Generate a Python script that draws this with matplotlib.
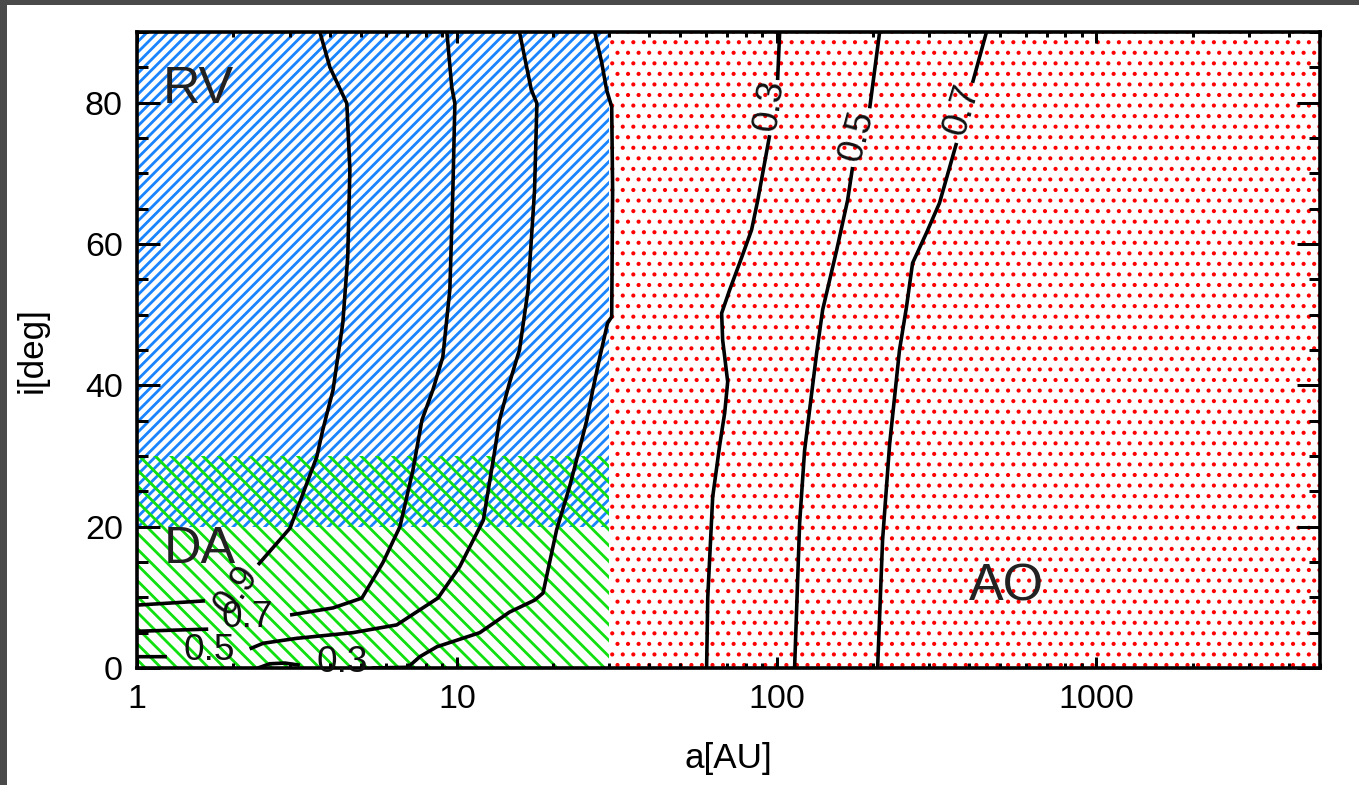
import matplotlib
matplotlib.use('Agg')
import matplotlib.pyplot as plt
from matplotlib.patches import Rectangle
from matplotlib.ticker import MultipleLocator, NullFormatter
import numpy as np

DPI = 190
W, H = 1359, 785


def pt(px):
    # size in output pixels -> points
    return px * 72.0 / DPI


plt.rcParams['font.family'] = ['Liberation Sans', 'DejaVu Sans']

# axes
a_range = [1, 5000]
i_range = [0, 90]
a_ticks = [1, 10, 100, 1000]
a_ticklabels = ['1', '10', '100', '1000']
i_ticks = [0, 20, 40, 60, 80]

# survey regions
rv_a, rv_i = [1, 30], [20, 90]
da_a, da_i = [1, 30], [0, 30]
ao_a, ao_i = [30, 5000], [0, 90]

nan = np.nan
# RV/DA side contours (nan = gap where label sits)
c09_a = [1.0, 1.63, nan, 2.39, 3.01, 3.65, 3.81, 4.10, 4.40, 4.56, 4.63, 4.53, 4.01, 3.73]
c09_i = [8.9, 9.5, nan, 14.6, 19.8, 29.9, 33.7, 39.3, 48.8, 58.2, 70.5, 79.9, 85.0, 90.0]

c07_a = [1.0, 1.67, nan, 3.01, 4.10, 5.05, 5.87, 6.64, 7.29, 7.78, 8.41, 9.04, 9.51, 9.72, 9.86, 9.64, 9.31]
c07_i = [5.2, 5.5, nan, 7.5, 8.5, 9.9, 14.9, 20.0, 28.0, 35.1, 39.3, 44.0, 53.5, 67.6, 79.9, 82.2, 90.0]

c05_a = [1.0, 1.24, nan, 2.25, 2.48, 3.16, 4.73, 6.49, 8.73, 10.2, 12.1, 13.1, 13.6, 14.6, 15.7, 16.7,
         17.5, 17.8, 17.1, 15.7]
c05_i = [1.6, 1.6, nan, 2.7, 3.5, 4.2, 5.0, 6.1, 9.9, 14.3, 20.9, 30.4, 35.1, 40.3, 45.0, 53.5,
         67.6, 79.9, 81.8, 90.0]

c03_a = [2.39, 2.60, 2.90, 3.23, nan, 5.42, 7.03, 7.66, 8.66, 11.8, 14.6, 17.5, 18.6, 20.5, 22.5, 24.6,
         25.5, 26.6, 28.0, 29.6, 30.5, 30.7, 30.5, 29.4, 28.4, 27.0]
c03_i = [0.0, 0.6, 0.7, 0.4, nan, 0.0, 0.1, 1.6, 3.0, 5.0, 7.9, 9.6, 10.6, 19.5, 25.6, 32.3,
         35.1, 39.3, 44.0, 48.8, 49.7, 67.6, 79.4, 81.8, 85.6, 90.0]

# AO side contours
ao03_a = [60.4, 60.9, 63.1, 66.4, 68.8, 70.3, 67.8, 67.3, 71.3, 76.6, 83.5, 87.3, 95.1, nan, 100.7, 102.2]
ao03_i = [0.0, 10.0, 24.2, 31.6, 36.1, 40.5, 46.4, 50.2, 53.5, 57.3, 62.0, 66.2, 75.4, nan, 83.2, 90.0]

ao05_a = [113.8, 118.0, 122.3, 133.4, 139.3, 154.0, 166.7, 172.8, nan, 195.4, 209.9]
ao05_i = [0.0, 20.5, 30.8, 44.6, 50.7, 59.1, 66.2, 70.9, nan, 79.2, 90.0]

ao07_a = [206.9, 214.4, 225.5, 242.2, 254.7, 266.1, 294.3, 323.0, 365.2, nan, 409.7, 453.0]
ao07_i = [0.0, 18.1, 31.6, 45.0, 51.1, 57.3, 61.6, 65.8, 74.3, nan, 82.8, 90.0]

# contour labels
label_text = ['0.9', '0.7', '0.5', '0.3', '0.3', '0.5', '0.7']
label_a = [2.05, 2.21, 1.68, 4.37, 95.1, 177.8, 378.5]
label_i = [11.0, 7.1, 2.5, 0.8, 79.7, 75.4, 79.0]
label_rot = [55, 0, 0, 0, 82, 75, 73]

fig = plt.figure(figsize=(W / DPI, H / DPI), dpi=DPI)
ax = fig.add_axes([137 / W, 117 / H, (1320 - 137) / W, (668 - 32) / H])

# screenshot frame
fig.add_artist(Rectangle((0, 0), 7 / W, 1, transform=fig.transFigure, color='#4a4a4a', lw=0))
fig.add_artist(Rectangle((0, 1 - 5 / H), 1, 5 / H, transform=fig.transFigure, color='#4a4a4a', lw=0))


def add_region(a, i, hatch, color, hlw):
    plt.rcParams['hatch.linewidth'] = hlw
    p = Rectangle((a[0], i[0]), a[1] - a[0], i[1] - i[0], facecolor='none',
                  edgecolor=color, linewidth=0, hatch=hatch, zorder=1)
    if hasattr(p, 'set_hatch_linewidth'):
        p.set_hatch_linewidth(hlw)
    ax.add_patch(p)


add_region(ao_a, ao_i, '...', '#ff0000', pt(2.0))
add_region(rv_a, rv_i, '//////', '#1a84ff', pt(2.8))
add_region(da_a, da_i, '\\\\\\\\', '#10e010', pt(2.8))

for xs, ys in [(c09_a, c09_i), (c07_a, c07_i), (c05_a, c05_i), (c03_a, c03_i),
               (ao03_a, ao03_i), (ao05_a, ao05_i), (ao07_a, ao07_i)]:
    ax.plot(xs, ys, color='black', lw=pt(3.6), zorder=3, solid_capstyle='butt')

for t, a, i, r in zip(label_text, label_a, label_i, label_rot):
    ax.text(a, i, t, rotation=r, ha='center', va='center', fontsize=pt(37),
            color='#111111', rotation_mode='anchor', zorder=4, clip_on=False)

ax.text(1.2, 80, 'RV', fontsize=pt(52), color='#222222', va='baseline', zorder=4)
ax.text(1.21, 14.9, 'DA', fontsize=pt(52), color='#222222', va='baseline', zorder=4)
ax.text(400, 9.6, 'AO', fontsize=pt(52), color='#222222', va='baseline', zorder=4)

ax.set_xscale('log')
ax.set_xlim(a_range)
ax.set_ylim(i_range)
ax.set_xticks(a_ticks, a_ticklabels)
ax.xaxis.set_minor_formatter(NullFormatter())
ax.set_yticks(i_ticks)
ax.yaxis.set_minor_locator(MultipleLocator(5))

ax.tick_params(which='both', direction='in', top=True, right=True, width=pt(3),
               labelsize=pt(34), colors='black')
ax.xaxis.set_tick_params(which='major', length=pt(11), pad=pt(16))
ax.xaxis.set_tick_params(which='minor', length=pt(5))
ax.yaxis.set_tick_params(which='major', length=pt(23), pad=pt(14))
ax.yaxis.set_tick_params(which='minor', length=pt(11))
for s in ax.spines.values():
    s.set_linewidth(pt(3.6))

ax.set_xlabel('a[AU]', fontsize=pt(35))
ax.set_ylabel('i[deg]', fontsize=pt(35))
ax.xaxis.set_label_coords(0.5, -0.117)
ax.yaxis.set_label_coords(-0.075, 0.5)

fig.savefig('out.png', dpi=DPI)
